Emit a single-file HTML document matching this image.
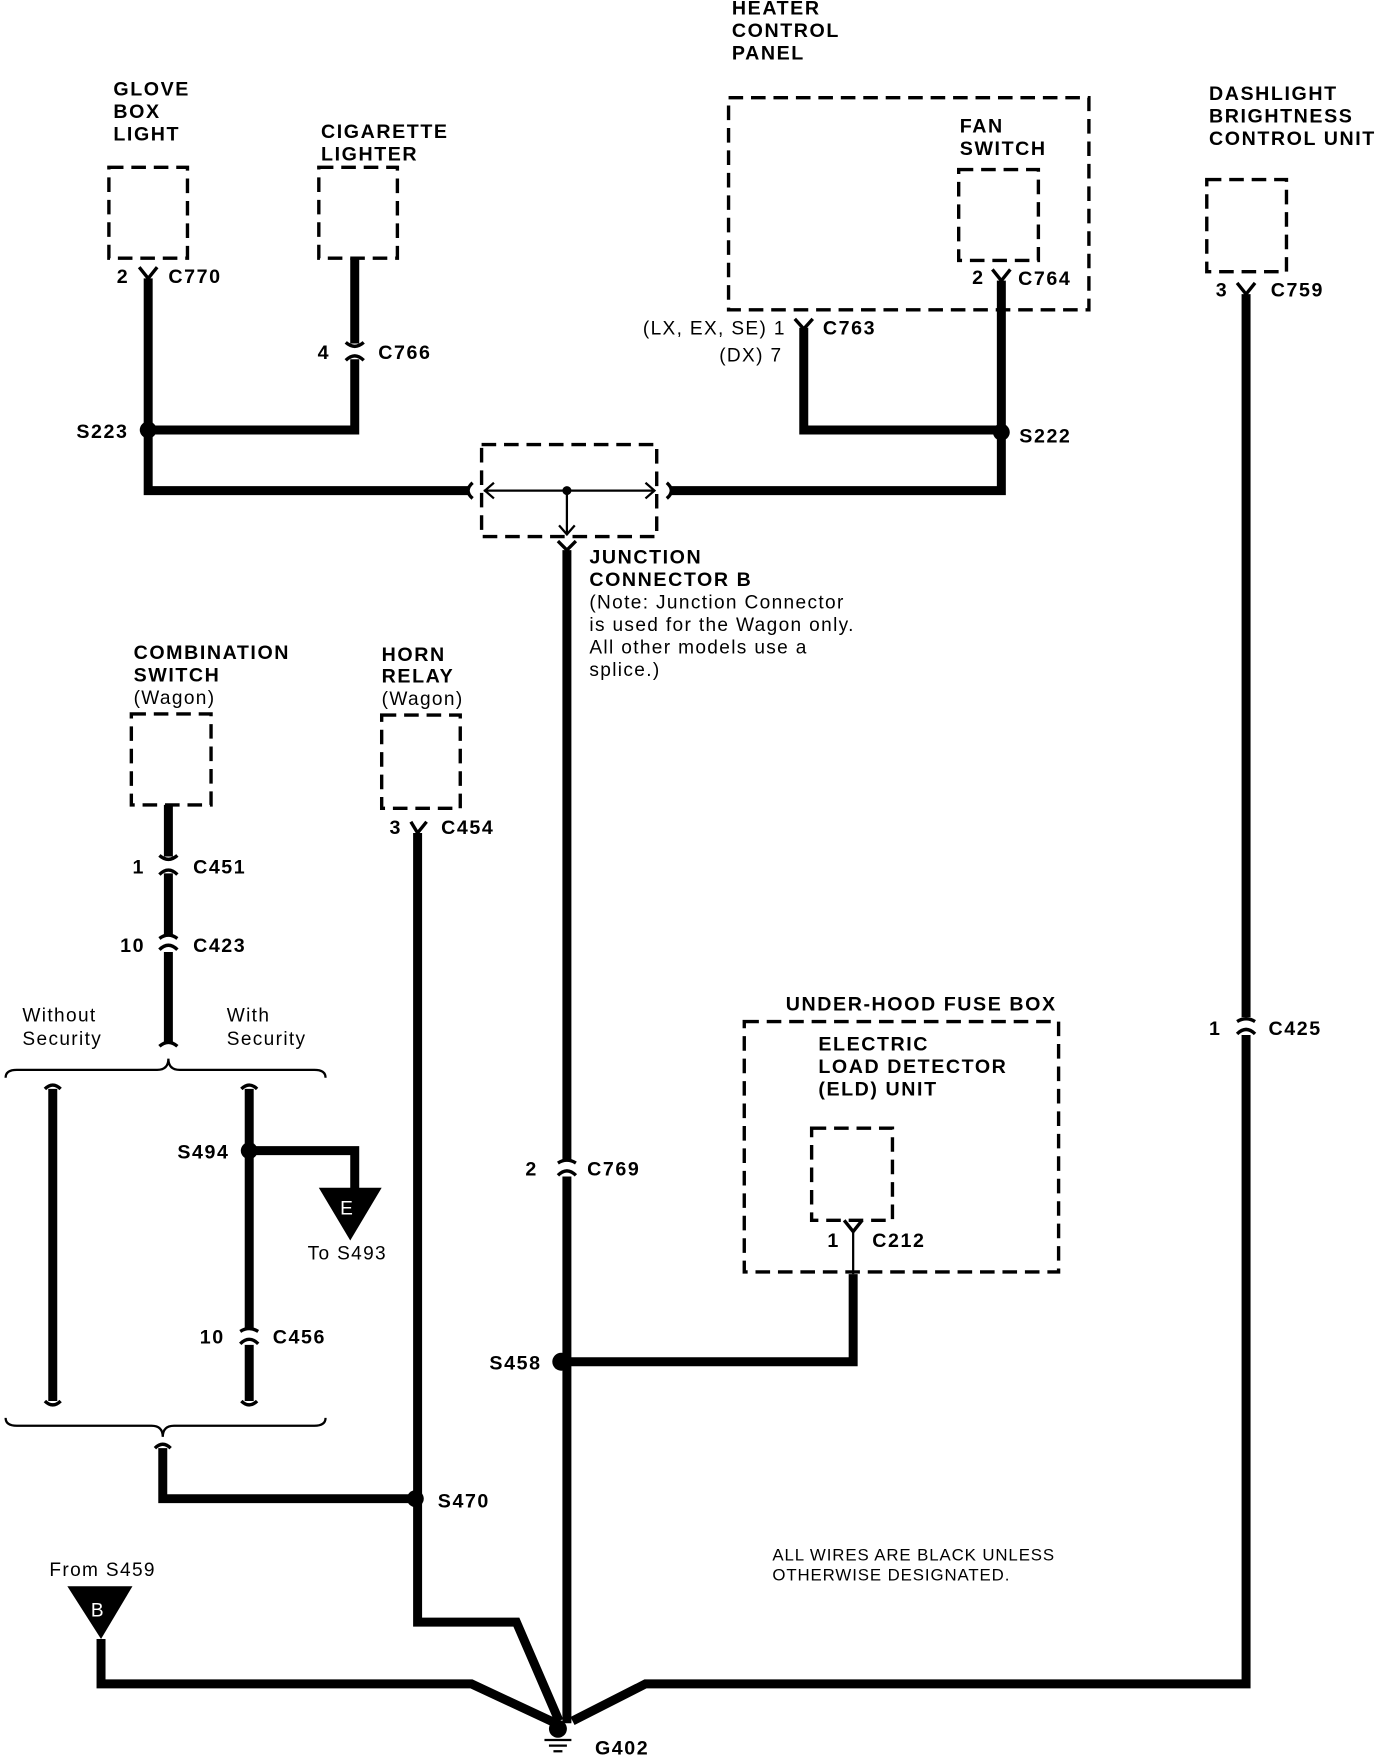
<!DOCTYPE html>
<html><head><meta charset="utf-8"><style>
html,body{margin:0;padding:0;background:#fff}
svg{display:block}
text{font-family:"Liberation Sans",sans-serif;fill:#000}
.b{font-weight:bold;font-size:17.5px;letter-spacing:1.4px}
.n{font-size:17px;letter-spacing:1.2px}
.s{font-size:15px;letter-spacing:0.8px}
</style></head><body>
<svg width="1392" height="1758" viewBox="0 0 1240 1566" preserveAspectRatio="none" xmlns="http://www.w3.org/2000/svg">
<g fill="none" stroke="#000" stroke-width="3" stroke-dasharray="13,7">
<rect x="97" y="149" width="70" height="81"/>
<rect x="284" y="149" width="70" height="81"/>
<rect x="649" y="87" width="321" height="189"/>
<rect x="854" y="151" width="71" height="81"/>
<rect x="1075" y="160" width="71" height="82"/>
<rect x="429" y="396" width="156" height="82"/>
<rect x="117" y="636" width="71" height="81"/>
<rect x="340" y="637" width="70" height="83"/>
<rect x="663" y="910" width="280" height="223"/>
<rect x="723" y="1005" width="72" height="82"/>
</g>
<g fill="none" stroke="#000" stroke-width="8" stroke-linejoin="miter">
<polyline points="132,248 132,437 418,437"/>
<polyline points="316,230 316,306"/><polyline points="316,320 316,383 132,383"/>
<polyline points="598,437 892,437 892,250"/>
<polyline points="716,292 716,383 892,383"/>
<polyline points="1110,262 1110,906"/><polyline points="1110,922 1110,1500 575,1500 510,1533"/>
<polyline points="505,490 505,1033"/><polyline points="505,1048 505,1535"/>
<polyline points="505,1213 760,1213 760,1135"/>
<polyline points="150,717 150,763"/><polyline points="150,778 150,833"/><polyline points="150,848 150,930"/>
<polyline points="47,970 47,1248"/>
<polyline points="222,970 222,1183"/><polyline points="222,1198 222,1248"/>
<polyline points="222,1025 316,1025 316,1060"/>
<polyline points="145,1290 145,1335 370,1335"/>
<polyline points="372,742 372,1445 460,1445 498,1533"/>
<polyline points="90,1460 90,1500 420,1500 495,1535"/>
</g>
<g fill="none" stroke="#000" stroke-width="2">
<line x1="431" y1="437" x2="583" y2="437"/>
<polyline points="440,430 432,437 440,444"/><polyline points="575,430 583,437 575,444"/>
<line x1="505" y1="437" x2="505" y2="476"/><polyline points="498,468 505,476 512,468"/>
<line x1="760" y1="1095" x2="760" y2="1135"/>
<path d="M5,960 Q5,953 15,953 L140,953 Q150,953 150,943 Q150,953 160,953 L280,953 Q290,953 290,960"/>
<path d="M5,1263 Q5,1270 15,1270 L135,1270 Q145,1270 145,1280 Q145,1270 155,1270 L280,1270 Q290,1270 290,1263"/>
</g>
<g fill="none" stroke="#000" stroke-width="3">
<path d="M124,238 L132,248 L140,238"/><path d="M708,284 L716,293 L724,284"/><path d="M884,240 L892,250 L900,240"/>
<path d="M1102,252 L1110,262 L1118,252"/><path d="M366,732 L372,742 L380,732"/><path d="M752,1087 L760,1097 L768,1087"/>
<path d="M497,482 L505,490 L513,482"/>
<path d="M308,305 Q316,312 324,305 M308,321 Q316,313 324,321"/>
<path d="M142,762 Q150,769 158,762 M142,779 Q150,771 158,779"/>
<path d="M142,846 Q150,838 158,846 M142,836 Q150,830 158,836"/>
<path d="M1102,921 Q1110,913 1118,921 M1102,910 Q1110,905 1118,910"/>
<path d="M497,1047 Q505,1039 513,1047 M497,1036 Q505,1031 513,1036"/>
<path d="M214,1197 Q222,1189 230,1197 M214,1186 Q222,1181 230,1186"/>
<path d="M421,430 Q413,437 421,444"/><path d="M594,430 Q602,437 594,444"/>
<path d="M142,932 Q150,925 158,932"/><path d="M40,970 Q47,963 54,970"/><path d="M215,970 Q222,963 229,970"/>
<path d="M40,1248 Q47,1255 54,1248"/><path d="M215,1248 Q222,1255 229,1248"/><path d="M138,1290 Q145,1283 152,1290"/>
</g>
<g fill="#000">
<circle cx="132" cy="383" r="7.5"/><circle cx="892" cy="385" r="7.5"/><circle cx="505" cy="437" r="4"/>
<circle cx="500" cy="1213" r="8"/><circle cx="222" cy="1025" r="7.5"/><circle cx="370" cy="1335" r="7.5"/>
<polygon points="284,1058 340,1058 312,1105"/><polygon points="60,1413 118,1413 90,1460"/>
<circle cx="497" cy="1540" r="8"/>
</g>
<g stroke="#000" stroke-width="2"><line x1="485" y1="1550" x2="509" y2="1550"/><line x1="489" y1="1555" x2="505" y2="1555"/><line x1="493" y1="1560" x2="501" y2="1560"/></g>
<text x="303" y="1082" class="n" style="fill:#fff">E</text>
<text x="81" y="1440" class="n" style="fill:#fff">B</text>
<g class="b">
<text x="101" y="85">GLOVE</text><text x="101" y="105">BOX</text><text x="101" y="125">LIGHT</text>
<text x="286" y="123">CIGARETTE</text><text x="286" y="143">LIGHTER</text>
<text x="652" y="13">HEATER</text><text x="652" y="33">CONTROL</text><text x="652" y="53">PANEL</text>
<text x="855" y="118">FAN</text><text x="855" y="138">SWITCH</text>
<text x="1077" y="89">DASHLIGHT</text><text x="1077" y="109">BRIGHTNESS</text><text x="1077" y="129">CONTROL UNIT</text>
<text x="525" y="502">JUNCTION</text><text x="525" y="522">CONNECTOR B</text>
<text x="119" y="587">COMBINATION</text><text x="119" y="607">SWITCH</text>
<text x="340" y="589">HORN</text><text x="340" y="608">RELAY</text>
<text x="700" y="900">UNDER-HOOD FUSE BOX</text>
<text x="729" y="936">ELECTRIC</text><text x="729" y="956">LOAD DETECTOR</text><text x="729" y="976">(ELD) UNIT</text>
<text x="104" y="252">2</text><text x="150" y="252">C770</text>
<text x="283" y="320">4</text><text x="337" y="320">C766</text>
<text x="68" y="390">S223</text><text x="908" y="394">S222</text>
<text x="866" y="253">2</text><text x="907" y="254">C764</text>
<text x="733" y="298">C763</text>
<text x="1083" y="264">3</text><text x="1132" y="264">C759</text>
<text x="1077" y="922">1</text><text x="1130" y="922">C425</text>
<text x="347" y="743">3</text><text x="393" y="743">C454</text>
<text x="118" y="778">1</text><text x="172" y="778">C451</text>
<text x="107" y="848">10</text><text x="172" y="848">C423</text>
<text x="468" y="1047">2</text><text x="523" y="1047">C769</text>
<text x="436" y="1220">S458</text>
<text x="737" y="1111">1</text><text x="777" y="1111">C212</text>
<text x="158" y="1032">S494</text>
<text x="178" y="1197">10</text><text x="243" y="1197">C456</text>
<text x="390" y="1343">S470</text>
<text x="530" y="1563">G402</text>
</g>
<g class="n">
<text x="700" y="298" text-anchor="end">(LX, EX, SE) 1</text>
<text x="697" y="322" text-anchor="end">(DX) 7</text>
<text x="525" y="542">(Note: Junction Connector</text><text x="525" y="562">is used for the Wagon only.</text>
<text x="525" y="582">All other models use a</text><text x="525" y="602">splice.)</text>
<text x="119" y="627">(Wagon)</text><text x="340" y="628">(Wagon)</text>
<text x="20" y="910">Without</text><text x="20" y="931">Security</text>
<text x="202" y="910">With</text><text x="202" y="931">Security</text>
<text x="274" y="1122">To S493</text>
<text x="44" y="1404">From S459</text>
</g>
<g class="s"><text x="688" y="1390">ALL WIRES ARE BLACK UNLESS</text><text x="688" y="1408">OTHERWISE DESIGNATED.</text></g>
</svg>
</body></html>
